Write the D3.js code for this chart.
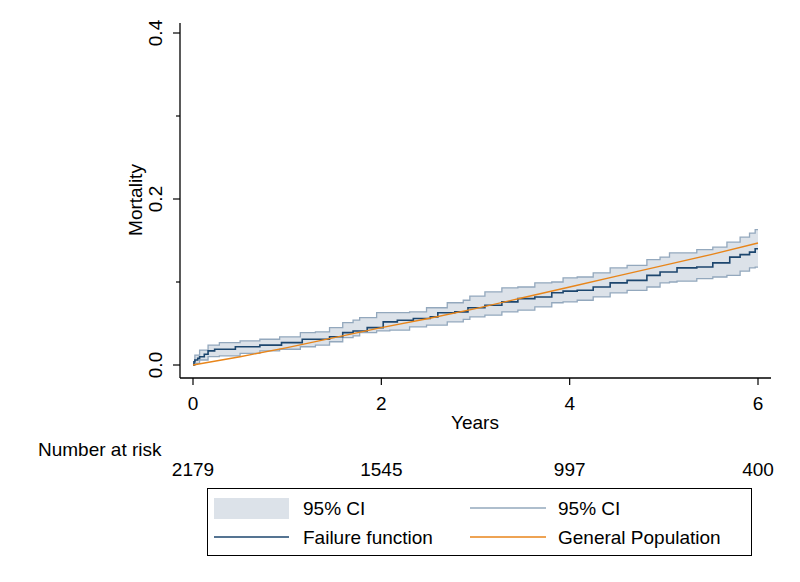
<!DOCTYPE html>
<html>
<head>
<meta charset="utf-8">
<script src="https://cdn.jsdelivr.net/npm/d3@7"></script>
<style>
  body { margin: 0; background: #fff; }
  text { font-family: "Liberation Sans", Arial, sans-serif; fill: #000; }
</style>
</head>
<body>
<div id="chart"></div>
<script>
// Failure function (Kaplan-Meier 1-S) steps
const failTimes = [0, 0.01, 0.02, 0.05, 0.07, 0.12, 0.16, 0.23, 0.45, 0.71, 0.94, 1.16, 1.45, 1.59, 1.70, 1.85, 2.02, 2.17, 2.34, 2.52,
  2.60, 2.78, 2.92, 3.10, 3.28, 3.45, 3.63, 3.81, 3.93, 4.08, 4.25, 4.43, 4.61, 4.82, 4.96, 5.14, 5.35, 5.52, 5.70, 5.81, 5.91, 5.97, 6.0];
const failValues = [0, 0.004, 0.006, 0.008, 0.010, 0.013, 0.017, 0.019, 0.022, 0.024, 0.027, 0.031, 0.034, 0.039, 0.041, 0.045, 0.052, 0.054, 0.056, 0.058,
  0.063, 0.064, 0.069, 0.072, 0.076, 0.080, 0.082, 0.087, 0.089, 0.090, 0.094, 0.099, 0.102, 0.108, 0.112, 0.117, 0.118, 0.123, 0.130, 0.133, 0.136, 0.140, 0.140];

// 95% CI bounds
const ciTimes = [0, 0.02, 0.07, 0.16, 0.28, 0.50, 0.71, 0.92, 1.14, 1.30, 1.45, 1.59, 1.70, 1.77, 1.95, 2.09, 2.30, 2.48, 2.70, 2.87,
  2.94, 3.10, 3.28, 3.45, 3.63, 3.81, 3.93, 4.08, 4.25, 4.43, 4.61, 4.82, 4.96, 5.06, 5.14, 5.35, 5.52, 5.67, 5.81, 5.91, 5.97, 6.0];
const ciUpper = [0, 0.012, 0.018, 0.024, 0.027, 0.029, 0.031, 0.034, 0.039, 0.040, 0.045, 0.051, 0.054, 0.057, 0.063, 0.063, 0.064, 0.069, 0.075, 0.078,
  0.083, 0.088, 0.093, 0.094, 0.099, 0.100, 0.105, 0.106, 0.111, 0.117, 0.120, 0.127, 0.130, 0.135, 0.135, 0.139, 0.142, 0.148, 0.154, 0.159, 0.163, 0.163];
const ciLower = [0, 0.002, 0.006, 0.010, 0.011, 0.014, 0.017, 0.019, 0.022, 0.024, 0.028, 0.033, 0.035, 0.039, 0.041, 0.042, 0.046, 0.048, 0.052, 0.055,
  0.058, 0.060, 0.064, 0.066, 0.070, 0.075, 0.076, 0.078, 0.082, 0.087, 0.090, 0.094, 0.099, 0.100, 0.101, 0.104, 0.106, 0.108, 0.113, 0.117, 0.118, 0.118];

// General population expected mortality
const popTimes = [0, 0.5, 1, 1.5, 2, 2.5, 3, 3.5, 4, 4.5, 5, 5.5, 6];
const popValues = [0, 0.010, 0.021, 0.033, 0.045, 0.056, 0.068, 0.081, 0.094, 0.107, 0.120, 0.133, 0.147];

const xTicks = [0, 2, 4, 6];
const yTicks = [0, 0.2, 0.4];
const yMinorTicks = [0.1, 0.3];
const riskTimes = [0, 2, 4, 6];
const riskCounts = [2179, 1545, 997, 400];

const width = 800;
const height = 582;
const fontSize = 19;

const colors = {
  band: "#dce2e9",
  ciLine: "#93a8bd",
  fail: "#1c466e",
  pop: "#e8851a"
};

const svg = d3.select("#chart").append("svg")
  .attr("width", width)
  .attr("height", height);

const x = d3.scaleLinear().domain([0, 6]).range([193, 758]);
const y = d3.scaleLinear().domain([0, 0.4]).range([365, 33]);

const ci = ciTimes.map((t, i) => ({ t: t, lo: ciLower[i], hi: ciUpper[i] }));
const fail = failTimes.map((t, i) => ({ t: t, v: failValues[i] }));
const pop = popTimes.map((t, i) => ({ t: t, v: popValues[i] }));

// CI band
svg.append("path")
  .datum(ci)
  .attr("fill", colors.band)
  .attr("d", d3.area().curve(d3.curveStepAfter)
    .x(d => x(d.t)).y0(d => y(d.lo)).y1(d => y(d.hi)));

// CI lines
["lo", "hi"].forEach(k => {
  svg.append("path")
    .datum(ci)
    .attr("fill", "none")
    .attr("stroke", colors.ciLine)
    .attr("stroke-width", 1.3)
    .attr("d", d3.line().curve(d3.curveStepAfter).x(d => x(d.t)).y(d => y(d[k])));
});

// failure function
svg.append("path")
  .datum(fail)
  .attr("fill", "none")
  .attr("stroke", colors.fail)
  .attr("stroke-width", 1.6)
  .attr("d", d3.line().curve(d3.curveStepAfter).x(d => x(d.t)).y(d => y(d.v)));

// general population
svg.append("path")
  .datum(pop)
  .attr("fill", "none")
  .attr("stroke", colors.pop)
  .attr("stroke-width", 1.4)
  .attr("d", d3.line().x(d => x(d.t)).y(d => y(d.v)));

// axes lines
const axisX = 180, axisY = 378;
svg.append("line").attr("x1", axisX).attr("x2", axisX).attr("y1", 23).attr("y2", axisY)
  .attr("stroke", "#000").attr("stroke-width", 1.3);
svg.append("line").attr("x1", axisX).attr("x2", 771).attr("y1", axisY).attr("y2", axisY)
  .attr("stroke", "#000").attr("stroke-width", 1.3);

// y ticks
yTicks.forEach(v => {
  svg.append("line").attr("x1", axisX - 7).attr("x2", axisX).attr("y1", y(v)).attr("y2", y(v))
    .attr("stroke", "#000").attr("stroke-width", 1.2);
  svg.append("text")
    .attr("transform", `translate(162, ${y(v)}) rotate(-90)`)
    .attr("text-anchor", "middle")
    .style("font-size", fontSize + "px")
    .text(d3.format(".1f")(v));
});
yMinorTicks.forEach(v => {
  svg.append("line").attr("x1", axisX - 4).attr("x2", axisX).attr("y1", y(v)).attr("y2", y(v))
    .attr("stroke", "#000").attr("stroke-width", 1.2);
});

svg.append("text")
  .attr("transform", "translate(142, 200) rotate(-90)")
  .attr("text-anchor", "middle")
  .style("font-size", fontSize + "px")
  .text("Mortality");

// x ticks
xTicks.forEach(v => {
  svg.append("line").attr("x1", x(v)).attr("x2", x(v)).attr("y1", axisY).attr("y2", axisY + 7)
    .attr("stroke", "#000").attr("stroke-width", 1.2);
  svg.append("text")
    .attr("x", x(v)).attr("y", 410)
    .attr("text-anchor", "middle")
    .style("font-size", fontSize + "px")
    .text(v);
});

svg.append("text")
  .attr("x", 475).attr("y", 429)
  .attr("text-anchor", "middle")
  .style("font-size", fontSize + "px")
  .text("Years");

// number at risk
svg.append("text")
  .attr("x", 38).attr("y", 456)
  .style("font-size", fontSize + "px")
  .text("Number at risk");

riskTimes.forEach((t, i) => {
  svg.append("text")
    .attr("x", x(t)).attr("y", 476)
    .attr("text-anchor", "middle")
    .style("font-size", fontSize + "px")
    .text(riskCounts[i]);
});

// legend
const lg = svg.append("g");
lg.append("rect").attr("x", 207.5).attr("y", 488.5).attr("width", 544).attr("height", 67)
  .attr("fill", "#fff").attr("stroke", "#000").attr("stroke-width", 1);

lg.append("rect").attr("x", 214).attr("y", 498).attr("width", 75).attr("height", 21)
  .attr("fill", colors.band);
lg.append("line").attr("x1", 470).attr("x2", 546).attr("y1", 508).attr("y2", 508)
  .attr("stroke", colors.ciLine).attr("stroke-width", 1.3);
lg.append("line").attr("x1", 214).attr("x2", 289).attr("y1", 537).attr("y2", 537)
  .attr("stroke", colors.fail).attr("stroke-width", 1.6);
lg.append("line").attr("x1", 470).attr("x2", 546).attr("y1", 537).attr("y2", 537)
  .attr("stroke", colors.pop).attr("stroke-width", 1.4);

const legendLabels = [
  { x: 303, y: 515, text: "95% CI" },
  { x: 558, y: 515, text: "95% CI" },
  { x: 303, y: 544, text: "Failure function" },
  { x: 558, y: 544, text: "General Population" }
];
legendLabels.forEach(d => {
  lg.append("text").attr("x", d.x).attr("y", d.y)
    .style("font-size", fontSize + "px")
    .text(d.text);
});
</script>
</body>
</html>
